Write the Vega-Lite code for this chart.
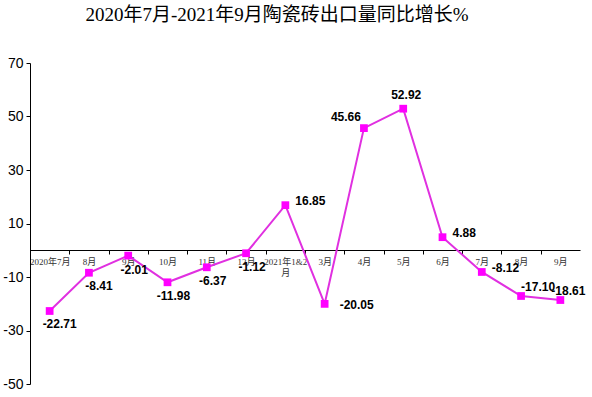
{
  "$schema": "https://vega.github.io/schema/vega-lite/v6.json",
  "width": 550,
  "height": 321,
  "autosize": "none",
  "padding": {"left": 30, "top": 63, "right": 12, "bottom": 13},
  "background": "white",
  "config": {
    "view": {"stroke": null},
    "locale": {"number": {"decimal": ".", "thousands": ",", "grouping": [3], "currency": ["", ""], "minus": "-"}},
    "text": {"font": "Liberation Sans", "fontSize": 12, "fontWeight": "bold", "color": "black", "baseline": "middle"}
  },
  "title": {
    "text": "2020年7月-2021年9月陶瓷砖出口量同比增长%",
    "font": "Liberation Serif, Noto Sans CJK SC",
    "fontSize": 19,
    "fontWeight": "normal",
    "color": "black",
    "anchor": "middle",
    "dx": -28,
    "offset": 31
  },
  "data": {
    "values": [
      {"month": "2020-07", "growth": -22.71},
      {"month": "2020-08", "growth": -8.41},
      {"month": "2020-09", "growth": -2.01},
      {"month": "2020-10", "growth": -11.98},
      {"month": "2020-11", "growth": -6.37},
      {"month": "2020-12", "growth": -1.12},
      {"month": "2021-02", "growth": 16.85},
      {"month": "2021-03", "growth": -20.05},
      {"month": "2021-04", "growth": 45.66},
      {"month": "2021-05", "growth": 52.92},
      {"month": "2021-06", "growth": 4.88},
      {"month": "2021-07", "growth": -8.12},
      {"month": "2021-08", "growth": -17.10},
      {"month": "2021-09", "growth": -18.61}
    ]
  },
  "layer": [
    {
      "mark": {"type": "line", "stroke": "#E030E0", "strokeWidth": 2},
      "encoding": {
        "x": {
          "field": "month",
          "type": "ordinal",
          "sort": null,
          "scale": {"padding": 0.5},
          "axis": {
            "title": null,
            "offset": -134,
            "labelExpr": "datum.value == '2020-07' ? '2020年7月' : datum.value == '2021-02' ? ['2021年1&2', '月'] : toNumber(slice(datum.value, 5)) + '月'",
            "labelFont": "Liberation Serif, Noto Sans CJK SC",
            "labelFontSize": 9,
            "labelColor": "#333333",
            "labelAngle": 0,
            "labelOverlap": false,
            "labelBound": false,
            "labelPadding": 3,
            "tickOffset": -19.64,
            "labelOffset": 19.64,
            "tickSize": 4,
            "tickColor": "black",
            "domainColor": "black",
            "grid": false
          }
        },
        "y": {
          "field": "growth",
          "type": "quantitative",
          "scale": {"domain": [-50, 70], "nice": false, "zero": false},
          "axis": {
            "title": null,
            "values": [-50, -30, -10, 10, 30, 50, 70],
            "grid": false,
            "labelFont": "Liberation Sans",
            "labelFontSize": 14,
            "labelColor": "black",
            "tickColor": "black",
            "domainColor": "black",
            "tickSize": 4,
            "labelPadding": 3
          }
        }
      }
    },
    {
      "mark": {"type": "point", "shape": "square", "size": 60, "filled": true, "fill": "#FF00FF", "opacity": 1},
      "encoding": {
        "x": {"field": "month", "type": "ordinal", "sort": null},
        "y": {"field": "growth", "type": "quantitative"}
      }
    },
    {
      "transform": [{"filter": {"field": "month", "oneOf": ["2020-07", "2020-08"]}}],
      "mark": {"type": "text", "align": "center", "dx": 10, "dy": 13},
      "encoding": {
        "x": {"field": "month", "type": "ordinal", "sort": null},
        "y": {"field": "growth", "type": "quantitative"},
        "text": {"field": "growth", "type": "quantitative", "format": ".2f"}
      }
    },
    {
      "transform": [{"filter": {"field": "month", "oneOf": ["2020-09", "2020-10", "2020-11", "2020-12"]}}],
      "mark": {"type": "text", "align": "center", "dx": 6, "dy": 14},
      "encoding": {
        "x": {"field": "month", "type": "ordinal", "sort": null},
        "y": {"field": "growth", "type": "quantitative"},
        "text": {"field": "growth", "type": "quantitative", "format": ".2f"}
      }
    },
    {
      "transform": [{"filter": {"field": "month", "oneOf": ["2021-02", "2021-06", "2021-07"]}}],
      "mark": {"type": "text", "align": "left", "dx": 10, "dy": -4},
      "encoding": {
        "x": {"field": "month", "type": "ordinal", "sort": null},
        "y": {"field": "growth", "type": "quantitative"},
        "text": {"field": "growth", "type": "quantitative", "format": ".2f"}
      }
    },
    {
      "transform": [{"filter": {"field": "month", "equal": "2021-03"}}],
      "mark": {"type": "text", "align": "left", "dx": 15, "dy": 1},
      "encoding": {
        "x": {"field": "month", "type": "ordinal", "sort": null},
        "y": {"field": "growth", "type": "quantitative"},
        "text": {"field": "growth", "type": "quantitative", "format": ".2f"}
      }
    },
    {
      "transform": [{"filter": {"field": "month", "equal": "2021-04"}}],
      "mark": {"type": "text", "align": "right", "dx": -3, "dy": -11},
      "encoding": {
        "x": {"field": "month", "type": "ordinal", "sort": null},
        "y": {"field": "growth", "type": "quantitative"},
        "text": {"field": "growth", "type": "quantitative", "format": ".2f"}
      }
    },
    {
      "transform": [{"filter": {"field": "month", "equal": "2021-05"}}],
      "mark": {"type": "text", "align": "center", "dx": 3, "dy": -14},
      "encoding": {
        "x": {"field": "month", "type": "ordinal", "sort": null},
        "y": {"field": "growth", "type": "quantitative"},
        "text": {"field": "growth", "type": "quantitative", "format": ".2f"}
      }
    },
    {
      "transform": [{"filter": {"field": "month", "equal": "2021-09"}}],
      "mark": {"type": "text", "align": "left", "dx": -9, "dy": -9},
      "encoding": {
        "x": {"field": "month", "type": "ordinal", "sort": null},
        "y": {"field": "growth", "type": "quantitative"},
        "text": {"field": "growth", "type": "quantitative", "format": ".2f"}
      }
    },
    {
      "transform": [{"filter": {"field": "month", "equal": "2021-08"}}],
      "mark": {"type": "text", "align": "left", "dx": 0, "dy": -9},
      "encoding": {
        "x": {"field": "month", "type": "ordinal", "sort": null},
        "y": {"field": "growth", "type": "quantitative"},
        "text": {"field": "growth", "type": "quantitative", "format": ".2f"}
      }
    }
  ]
}
